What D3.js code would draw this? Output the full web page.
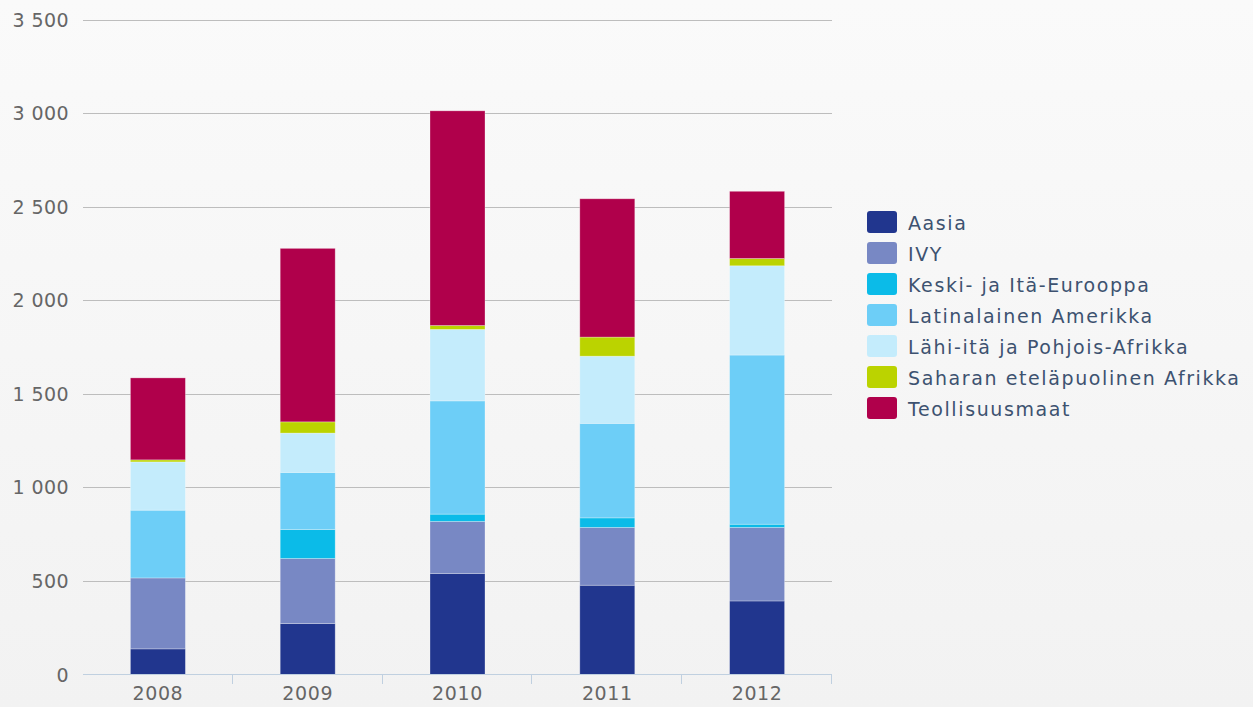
<!DOCTYPE html>
<html>
<head>
<meta charset="utf-8">
<script src="https://cdn.jsdelivr.net/npm/d3@7"></script>
<style>
    html, body { margin: 0; padding: 0; }
    body { width: 1253px; height: 707px; overflow: hidden; }
    text { font-family: "DejaVu Sans", Verdana, sans-serif; }
</style>
</head>
<body>
<div id="chart"></div>
<script>
// Data
const years = ["2008", "2009", "2010", "2011", "2012"];
const regions = ["Aasia", "IVY", "Keski- ja Itä-Eurooppa", "Latinalainen Amerikka",
    "Lähi-itä ja Pohjois-Afrikka", "Saharan eteläpuolinen Afrikka", "Teollisuusmaat"];
const colors = ["#21368e", "#7888c4", "#0bbbe8", "#6dcef7", "#c4ecfc", "#bbd300", "#b0004b"];

const aasia   = [137, 272, 540, 477, 393];
const ivy     = [379, 348, 278, 309, 393];
const keski   = [0, 155, 39, 51, 17];
const latina  = [362, 305, 605, 505, 904];
const lahi    = [258, 210, 382, 359, 477];
const saharan = [11, 60, 21, 102, 39];
const teoll   = [438, 927, 1147, 739, 359];

const yTicks = [0, 500, 1000, 1500, 2000, 2500, 3000, 3500];

const width = 1253, height = 707;
const seriesValues = [aasia, ivy, keski, latina, lahi, saharan, teoll];

// build rows for d3.stack
const rows = years.map((yr, i) => {
    const row = { year: yr };
    regions.forEach((r, j) => { row[r] = seriesValues[j][i]; });
    return row;
});

const svg = d3.select("#chart").append("svg")
    .attr("width", width)
    .attr("height", height);

// background gradient
const grad = svg.append("defs").append("linearGradient")
    .attr("id", "bg").attr("x1", 0).attr("y1", 0).attr("x2", 0).attr("y2", 1);
grad.append("stop").attr("offset", "0%").attr("stop-color", "#fafafa");
grad.append("stop").attr("offset", "100%").attr("stop-color", "#f2f2f2");
svg.append("rect").attr("width", width).attr("height", height).attr("fill", "url(#bg)");

const x = d3.scaleBand()
    .domain(years)
    .range([83, 832])
    .paddingInner(0.633)
    .paddingOuter(0.3165);

const y = d3.scaleLinear()
    .domain([0, 3500])
    .range([674.5, 19.5]);

// gridlines
svg.append("g")
    .selectAll("line")
    .data(yTicks.slice(1))
    .enter().append("line")
    .attr("x1", 83).attr("x2", 832)
    .attr("y1", d => Math.round(y(d)) + 0.5)
    .attr("y2", d => Math.round(y(d)) + 0.5)
    .attr("stroke", "#bdbdbd")
    .attr("stroke-width", 1.2);

// y labels
const fmt = d => d3.format(",")(d).replace(/,/g, " ");
svg.append("g")
    .selectAll("text")
    .data(yTicks)
    .enter().append("text")
    .attr("x", 69)
    .attr("y", d => y(d) + 7)
    .attr("text-anchor", "end")
    .attr("font-size", "19px")
    .attr("letter-spacing", "0.4px")
    .attr("fill", "#666")
    .text(fmt);

// stacked bars
const stack = d3.stack().keys(regions);
const layers = stack(rows);

svg.append("g")
    .selectAll("g")
    .data(layers)
    .enter().append("g")
    .attr("fill", (d, i) => colors[i])
    .selectAll("rect")
    .data(d => d)
    .enter().append("rect")
    .attr("x", d => x(d.data.year))
    .attr("width", x.bandwidth())
    .attr("y", d => y(d[1]))
    .attr("height", d => y(d[0]) - y(d[1]))
    .attr("stroke", "#ffffff")
    .attr("stroke-opacity", 0.35)
    .attr("stroke-width", 0.8);

// x axis line and ticks
const axis = svg.append("g");
axis.append("line")
    .attr("x1", 83).attr("x2", 832)
    .attr("y1", 674.5).attr("y2", 674.5)
    .attr("stroke", "#c0d0e0");
axis.selectAll(".tick")
    .data(d3.range(1, years.length + 1))
    .enter().append("line")
    .attr("class", "tick")
    .attr("x1", i => Math.round(83 + i * x.step()) - 0.5)
    .attr("x2", i => Math.round(83 + i * x.step()) - 0.5)
    .attr("y1", 674).attr("y2", 684)
    .attr("stroke", "#c0d0e0");

axis.selectAll(".label")
    .data(years)
    .enter().append("text")
    .attr("class", "label")
    .attr("x", d => x(d) + x.bandwidth() / 2)
    .attr("y", 700)
    .attr("text-anchor", "middle")
    .attr("font-size", "19px")
    .attr("letter-spacing", "0.6px")
    .attr("fill", "#666")
    .text(d => d);

// legend
const legend = svg.append("g").attr("transform", "translate(867,211)");
const item = legend.selectAll("g")
    .data(regions)
    .enter().append("g")
    .attr("transform", (d, i) => `translate(0,${i * 31})`);

item.append("rect")
    .attr("width", 30)
    .attr("height", 22)
    .attr("rx", 3)
    .attr("fill", (d, i) => colors[i]);

item.append("text")
    .attr("x", 41)
    .attr("y", 19)
    .attr("font-size", "19px")
    .attr("letter-spacing", "1.6px")
    .attr("fill", "#3d5270")
    .text(d => d);
</script>
</body>
</html>
